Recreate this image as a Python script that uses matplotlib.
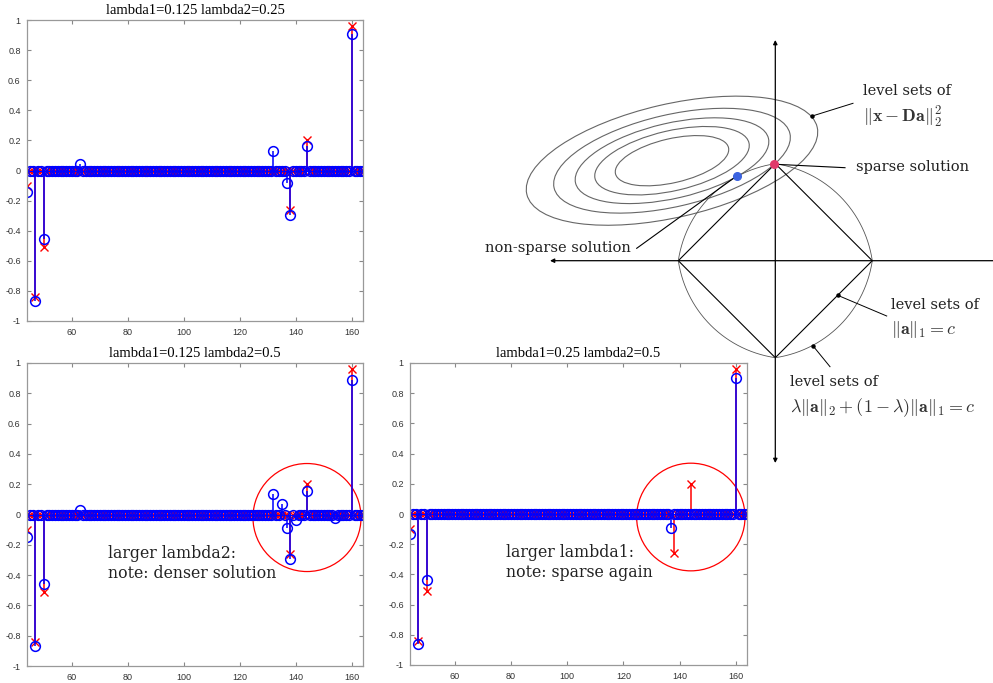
import numpy as np
import matplotlib.pyplot as plt
from matplotlib.patches import Ellipse

plt.rcParams['mathtext.fontset'] = 'cm'

# --- data: coefficient index range and nonzero entries ---
idx = np.arange(44, 165)

true_pos = [44, 47, 50, 138, 144, 160]
true_val = [-0.10, -0.84, -0.51, -0.26, 0.20, 0.96]

est_pos = [
    [44, 47, 50, 63, 132, 137, 138, 144, 160],
    [44, 47, 50, 63, 132, 135, 137, 138, 140, 144, 154, 160],
    [44, 47, 50, 137, 160],
]
est_val = [
    [-0.145, -0.868, -0.458, 0.04, 0.13, -0.085, -0.295, 0.16, 0.905],
    [-0.15, -0.868, -0.458, 0.03, 0.135, 0.07, -0.09, -0.295, -0.035, 0.157, -0.025, 0.89],
    [-0.135, -0.864, -0.437, -0.09, 0.90],
]

titles = ['lambda1=0.125 lambda2=0.25',
          'lambda1=0.125 lambda2=0.5',
          'lambda1=0.25 lambda2=0.5']
notes = [None, 'larger lambda2:\nnote: denser solution', 'larger lambda1:\nnote: sparse again']
x_ticks = [60, 80, 100, 120, 140, 160]
y_ticks = [-1, -0.8, -0.6, -0.4, -0.2, 0, 0.2, 0.4, 0.6, 0.8, 1]
y_ticklabels = ['-1', '-0.8', '-0.6', '-0.4', '-0.2', '0', '0.2', '0.4', '0.6', '0.8', '1']

W, H = 993, 683
fig = plt.figure(figsize=(W / 100, H / 100), dpi=100)

# --- right-hand diagram drawn in pixel coordinates ---
ad = fig.add_axes([0, 0, 1, 1])
ad.set_xlim(0, W)
ad.set_ylim(H, 0)
ad.axis('off')

ox, oy = 775.3, 260.7   # origin of the diagram
R = 97.0
lam = 0.85
ell_center = (672, 160.7)
ell_a = [58, 79, 99, 121, 149]
ell_ratio = 0.38

# coordinate arrows
ad.annotate('', xy=(ox, 40), xytext=(ox, 463),
            arrowprops=dict(arrowstyle='<|-|>', lw=0.9, color='k', mutation_scale=6,
                            shrinkA=0, shrinkB=0))
ad.annotate('', xy=(550, oy), xytext=(W + 5, oy),
            arrowprops=dict(arrowstyle='-|>', lw=0.9, color='k', mutation_scale=6,
                            shrinkA=0, shrinkB=0))

# level sets of the quadratic term
for a in ell_a:
    ad.add_patch(Ellipse(ell_center, 2 * a, 2 * a * ell_ratio, angle=-13,
                         fill=False, ec='#666666', lw=0.8))

# l1 ball
ad.plot([ox - R, ox, ox + R, ox, ox - R], [oy, oy - R, oy, oy + R, oy],
        color='k', lw=0.8)

# elastic-net ball
th = np.linspace(0, 2 * np.pi, 721)
r = R / (lam + (1 - lam) * (np.abs(np.cos(th)) + np.abs(np.sin(th))))
ad.plot(ox + r * np.cos(th), oy - r * np.sin(th), color='#555555', lw=0.6)

# solutions
sp = (ox - 1.5, oy - R + 0.5)
ns = (736.7, 176)
ad.plot([ns[0], 636.7], [ns[1], 248.3], color='k', lw=0.8)
ad.plot([sp[0], 845], [sp[1], 167.7], color='k', lw=0.8)
ad.plot(*sp, 'o', color='#e03a6a', ms=5.5, zorder=5)
ad.plot(*ns, 'o', color='#3b63e0', ms=5.5, zorder=5)

# leader lines with small dots
leaders = [((812.3, 116), (853, 103.3)),
           ((837.7, 295.3), (886.7, 316)),
           ((812.7, 345.5), (830, 366.7))]
for (x0, y0), (x1, y1) in leaders:
    ad.plot([x0, x1], [y0, y1], color='k', lw=0.7)
    ad.plot(x0, y0, 'o', color='k', ms=2.2)

tf = dict(family='DejaVu Serif', fontsize=10.5, color='#222222', ha='left', va='center')
mf = dict(fontsize=13, color='#333333', ha='left', va='center')
ad.text(863, 91, 'level sets of', **tf)
ad.text(863, 117, r'$\|\mathbf{x}-\mathbf{Da}\|_2^2$', **mf)
ad.text(855.7, 166.7, 'sparse solution', **tf)
ad.text(485, 248.3, 'non-sparse solution', **tf)
ad.text(890.7, 305, 'level sets of', **tf)
ad.text(890.7, 329, r'$\|\mathbf{a}\|_1=c$', **mf)
ad.text(790, 381.7, 'level sets of', **tf)
ad.text(790, 407.7, r'$\lambda\|\mathbf{a}\|_2+(1-\lambda)\|\mathbf{a}\|_1=c$', **mf)

# --- stem plots ---
boxes = [(27, 20, 363, 321), (27, 363, 363, 666), (410, 363, 747, 665)]
note_xy = [None, (0.241, 0.40), (0.285, 0.40)]

for k, (l, t, rr, b) in enumerate(boxes):
    ax = fig.add_axes([l / W, (H - b) / H, (rr - l) / W, (b - t) / H])
    x_true = np.zeros(len(idx))
    x_true[np.searchsorted(idx, true_pos)] = true_val
    x_est = np.zeros(len(idx))
    x_est[np.searchsorted(idx, est_pos[k])] = est_val[k]

    m1, s1, b1 = ax.stem(idx, x_true, linefmt='r-', markerfmt='rx', basefmt='r-')
    plt.setp(m1, ms=6, mew=1.0)
    plt.setp(s1, lw=1.1)
    plt.setp(b1, lw=0.8)
    m2, s2, b2 = ax.stem(idx, x_est, linefmt='b-', markerfmt='bo', basefmt='b-')
    plt.setp(m2, ms=7, mew=1.1, mfc='none')
    plt.setp(s2, lw=1.1)
    plt.setp(b2, lw=0.8)

    ax.set_xlim(44, 164)
    ax.set_ylim(-1, 1)
    ax.set_xticks(x_ticks)
    ax.set_yticks(y_ticks)
    ax.set_yticklabels(y_ticklabels)
    ax.tick_params(direction='in', length=3, width=0.8, color='#888888',
                   top=True, right=True, labelsize=6.5, labelcolor='#333333')
    ax.tick_params(axis='y', pad=4.5)
    ax.tick_params(axis='x', pad=5)
    for lab in ax.get_xticklabels() + ax.get_yticklabels():
        lab.set_family('Liberation Sans')
    for s in ax.spines.values():
        s.set_color('#999999')
        s.set_linewidth(0.9)
    ax.set_title(titles[k], family='Liberation Serif', fontsize=10.5, pad=4)

    if notes[k]:
        ax.add_patch(Ellipse((144, -0.02), 38.6, 0.713, fill=False, ec='red', lw=0.9))
        ax.text(*note_xy[k], notes[k], transform=ax.transAxes,
                family='DejaVu Serif', fontsize=11.3, color='#222222',
                ha='left', va='top', linespacing=1.25)

fig.savefig('out.png', dpi=100)
